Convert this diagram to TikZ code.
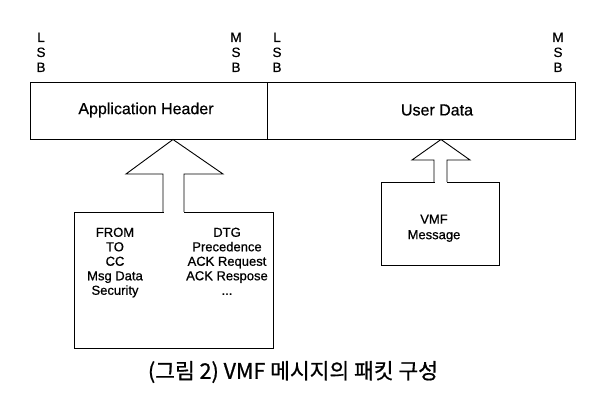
\documentclass[tikz,border=0pt]{standalone}
\usepackage{fontspec}
\setmainfont{Liberation Sans}
\newfontfamily\dfont[FakeBold=0.6]{Liberation Sans}
\newfontfamily\krfont[FakeBold=0.8]{Noto Sans CJK KR}
\begin{document}
\begin{tikzpicture}[x=1pt,y=-1pt,
  cell/.style={draw,line width=0.9pt,minimum height=57.5pt,inner sep=0pt,anchor=north west},
  srcbox/.style={draw,line width=0.9pt,inner sep=0pt,anchor=north west},
  blockarrow/.style={draw,line width=0.9pt,line join=miter},
  bitlbl/.style={anchor=north,align=center,inner sep=0pt,font=\dfont\fontsize{13.5}{15}\selectfont},
  celltxt/.style={inner sep=0pt,font=\dfont\fontsize{16}{19}\selectfont},
  boxtxt/.style={anchor=north,align=center,inner sep=0pt,font=\dfont\fontsize{13}{14.5}\selectfont},
  captxt/.style={inner sep=0pt,font=\krfont\fontsize{21.5}{24}\selectfont}]
\useasboundingbox[fill=white] (0,0) rectangle (611,417);

% bit order labels
\node[bitlbl] (lsb1) at (41,32.5) {L\\S\\B};
\node[bitlbl] (msb1) at (236,32.5) {M\\S\\B};
\node[bitlbl] (lsb2) at (277,32.5) {L\\S\\B};
\node[bitlbl] (msb2) at (558,32.5) {M\\S\\B};

% packet fields
\node[cell,minimum width=237pt] (hdr) at (30,82) {};
\node[cell,minimum width=308pt] (usr) at (267,82) {};
\node[celltxt] (hdrtxt) at (146,110) {Application Header};
\node[celltxt] (usrtxt) at (437,110) {User Data};

% source boxes
\node[srcbox,minimum width=199pt,minimum height=136pt] (fields) at (74,212) {};
\node[srcbox,minimum width=118pt,minimum height=83pt] (vmf) at (381,182) {};

\node[boxtxt] (leftcol) at (115,227.5) {FROM\\TO\\CC\\Msg Data\\Security};
\node[boxtxt] (rightcol) at (227,227.5) {DTG\\Precedence\\ACK Request\\ACK Respose\\...};
\node[boxtxt,font=\dfont\fontsize{13}{15.5}\selectfont] (vmftxt) at (434,214.5) {VMF\\Message};

% block arrows
\coordinate (tipL) at (173,139.5);
\coordinate (tipR) at (441,139.5);
\fill[white] (163.5,214) rectangle (183.5,200);
\fill[white] (434.5,184) rectangle (446.5,170);
\draw[blockarrow] (163,212) -- (163,174) -- (126,174) -- (tipL) -- (223,174) -- (184,174) -- (184,212);
\draw[blockarrow] (434,182) -- (434,160) -- (412,160) -- (tipR) -- (470,160) -- (447,160) -- (447,182);

% caption
\node[captxt] (cap) at (293,372) {(그림 2) VMF 메시지의 패킷 구성};
\end{tikzpicture}
\end{document}
